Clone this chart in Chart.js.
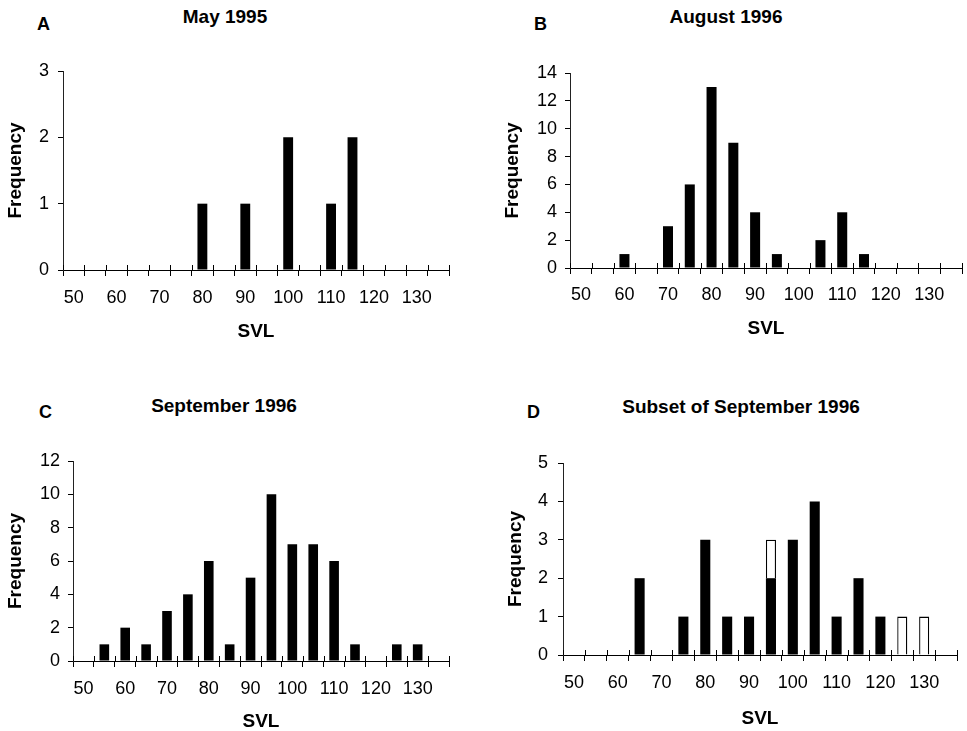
<!DOCTYPE html>
<html>
<head>
<meta charset="utf-8">
<script src="https://cdn.jsdelivr.net/npm/chart.js@4.4.1/dist/chart.umd.min.js"></script>
<style>
  html, body { margin: 0; padding: 0; background: #fff; overflow: hidden; }
  #fig { position: relative; width: 967px; height: 731px; overflow: hidden; font-family: 'Liberation Sans', Arial, sans-serif; }
  canvas { position: absolute; }
  .lbl { position: absolute; font-weight: bold; color: #000; white-space: nowrap; }
  .letra { font-size: 18px; line-height: 18px; }
  .titulo { font-size: 19px; line-height: 19px; width: 400px; text-align: center; }
</style>
</head>
<body>
<div id="fig">
  <div class="lbl letra" style="left:37px;top:15px">A</div>
  <div class="lbl titulo" style="left:25px;top:7px">May 1995</div>
  <div class="lbl letra" style="left:534px;top:15px">B</div>
  <div class="lbl titulo" style="left:526px;top:7px">August 1996</div>
  <div class="lbl letra" style="left:39px;top:403px">C</div>
  <div class="lbl titulo" style="left:24px;top:396px">September 1996</div>
  <div class="lbl letra" style="left:527px;top:403px">D</div>
  <div class="lbl titulo" style="left:541px;top:397px">Subset of September 1996</div>
  <canvas id="chartA"></canvas>
  <canvas id="chartB"></canvas>
  <canvas id="chartC"></canvas>
  <canvas id="chartD"></canvas>
</div>
<script>
// classes de SVL (5 mm)
const categorias = [50, 55, 60, 65, 70, 75, 80, 85, 90, 95, 100, 105, 110, 115, 120, 125, 130, 135];
const rotulosX = [50, 60, 70, 80, 90, 100, 110, 120, 130];

// frequencias
const maio1995 = [0, 0, 0, 0, 0, 0, 1, 0, 1, 0, 2, 0, 1, 2, 0, 0, 0, 0];
const agosto1996 = [0, 0, 1, 0, 3, 6, 13, 9, 4, 1, 0, 2, 4, 1, 0, 0, 0, 0];
const setembro1996 = [0, 1, 2, 1, 3, 4, 6, 1, 5, 10, 7, 7, 6, 1, 0, 1, 1, 0];
const subsetCheio = [0, 0, 0, 2, 0, 1, 3, 1, 1, 2, 3, 4, 1, 2, 1, 0, 0, 0];
const subsetVazio = [0, 0, 0, 0, 0, 0, 0, 0, 0, 1, 0, 0, 0, 0, 0, 1, 1, 0];

// ticks do eixo Y
const ticksA = [0, 1, 2, 3];
const ticksB = [0, 2, 4, 6, 8, 10, 12, 14];
const ticksC = [0, 2, 4, 6, 8, 10, 12];
const ticksD = [0, 1, 2, 3, 4, 5];

Chart.defaults.font.family = "'Liberation Sans', Arial, sans-serif";
Chart.defaults.color = '#000';
Chart.defaults.animation = false;

// === Marcas do eixo X cruzando a linha (estilo Excel) ===
const marcasCruzadas = {
    id: 'marcasCruzadas',
    afterDraw(chart) {
        const sx = chart.scales.x;
        const ctx = chart.ctx;
        ctx.save();
        ctx.strokeStyle = '#000';
        ctx.lineWidth = 1;
        ctx.beginPath();
        for (let i = 0; i <= categorias.length; i++) {
            const px = Math.round(sx.getPixelForValue(i - 0.5)) + 0.5;
            ctx.moveTo(px, sx.top - 5);
            ctx.lineTo(px, sx.top);
        }
        ctx.stroke();
        ctx.restore();
    }
};

// === Posicao de cada painel (px na figura) ===
const paineis = {
    A: { id: 'chartA', left: 0, top: 0, w: 480, h: 348, area: { l: 63, r: 449, t: 71, b: 270 }, padL: 0, yTitlePad: 4, xTitlePad: 5, yTickPad: 9, xTickPad: 11 },
    B: { id: 'chartB', left: 480, top: 0, w: 487, h: 345, area: { l: 570, r: 962, t: 73, b: 268 }, padL: 16, yTitlePad: 5, xTitlePad: 5, yTickPad: 8, xTickPad: 10 },
    C: { id: 'chartC', left: 0, top: 380, w: 480, h: 358, area: { l: 73, r: 449, t: 461, b: 661 }, padL: 0, yTitlePad: 4, xTitlePad: 5, yTickPad: 8, xTickPad: 11 },
    D: { id: 'chartD', left: 480, top: 380, w: 487, h: 355, area: { l: 563, r: 957, t: 463, b: 655 }, padL: 19, yTitlePad: 5, xTitlePad: 5, yTickPad: 10, xTickPad: 11 }
};

function barrasPretas(dados) {
    return { data: dados, backgroundColor: '#000', borderWidth: 0, barPercentage: 0.46, categoryPercentage: 1 };
}

function barrasVazias(dados) {
    return { data: dados, backgroundColor: '#fff', borderColor: '#000', borderWidth: 1.3, barPercentage: 0.46, categoryPercentage: 1 };
}

function criarPainel(p, datasets, yTicks) {
    const canvas = document.getElementById(p.id);
    canvas.width = p.w;
    canvas.height = p.h;
    canvas.style.left = p.left + 'px';
    canvas.style.top = p.top + 'px';
    const larguraY = p.area.l - p.left - p.padL;
    const alturaX = p.h - (p.area.b - p.top);

    return new Chart(canvas, {
        type: 'bar',
        data: { labels: categorias.map(String), datasets },
        options: {
            responsive: false,
            devicePixelRatio: 1,
            layout: { padding: { left: p.padL, right: p.left + p.w - p.area.r, top: p.area.t - p.top, bottom: 0 } },
            plugins: { legend: { display: false }, tooltip: { enabled: false } },
            scales: {
                x: {
                    stacked: true,
                    grid: { drawOnChartArea: false, drawTicks: true, tickLength: 6, color: '#000' },
                    border: { color: '#000', width: 1 },
                    ticks: {
                        autoSkip: false, maxRotation: 0, padding: p.xTickPad,
                        font: { size: 18 }, color: '#000',
                        callback: (v, i) => rotulosX.includes(categorias[i]) ? String(categorias[i]) : ''
                    },
                    title: { display: true, text: 'SVL', font: { size: 19, weight: 'bold' }, padding: { top: 0, bottom: p.xTitlePad } },
                    afterFit: s => { s.height = alturaX; }
                },
                y: {
                    stacked: true,
                    min: 0,
                    max: yTicks[yTicks.length - 1],
                    afterBuildTicks: s => { s.ticks = yTicks.map(v => ({ value: v })); },
                    grid: { drawOnChartArea: false, drawTicks: true, tickLength: 5, color: '#000' },
                    border: { color: '#222', width: 1 },
                    ticks: { padding: p.yTickPad, font: { size: 18 }, color: '#000' },
                    title: { display: true, text: 'Frequency', font: { size: 19, weight: 'bold' }, padding: { top: p.yTitlePad, bottom: 0 } },
                    afterFit: s => { s.width = larguraY; }
                }
            }
        },
        plugins: [marcasCruzadas]
    });
}

criarPainel(paineis.A, [barrasPretas(maio1995)], ticksA);
criarPainel(paineis.B, [barrasPretas(agosto1996)], ticksB);
criarPainel(paineis.C, [barrasPretas(setembro1996)], ticksC);
criarPainel(paineis.D, [barrasPretas(subsetCheio), barrasVazias(subsetVazio)], ticksD);
</script>
</body>
</html>
